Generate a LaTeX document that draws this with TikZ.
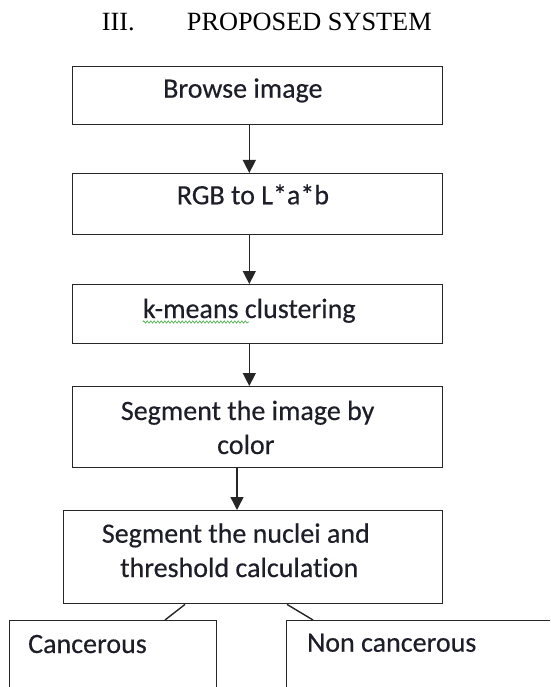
\documentclass[tikz,border=0pt]{standalone}
\usepackage{fontspec}
\setmainfont{Liberation Serif}
\newfontfamily\boxfont[Ligatures=NoCommon,FakeBold=0.4]{Carlito}
\usetikzlibrary{arrows.meta,decorations.pathmorphing}
\definecolor{lineclr}{HTML}{262626}
\definecolor{txtclr}{HTML}{1E1E2A}
\tikzset{
  x=1pt, y=-1pt,
  boxnode/.style={draw=lineclr, line width=1.4pt, rectangle, anchor=north west, inner sep=0pt},
  txt/.style={anchor=base west, inner sep=0pt, text=txtclr, font=\boxfont\fontsize{28}{33}\selectfont},
  ttl/.style={anchor=base west, inner sep=0pt, font=\fontsize{26.3}{30}\selectfont},
  arr/.style={draw=lineclr, line width=1.4pt, -{Triangle[width=13pt,length=13pt]}},
  conn/.style={draw=lineclr, line width=1.4pt},
}
\begin{document}
\begin{tikzpicture}
\useasboundingbox (0,0) rectangle (550,687);
\clip (0,0) rectangle (550,687);
% title
\node[ttl] (t1) at (101.7,31) {III.};
\node[ttl] (t2) at (186.7,31) {PROPOSED SYSTEM};
% boxes
\node[boxnode, minimum width=370pt, minimum height=58pt] (b1) at (72,66) {};
\node[boxnode, minimum width=370pt, minimum height=61pt] (b2) at (72,173) {};
\node[boxnode, minimum width=370pt, minimum height=59pt] (b3) at (72,284) {};
\node[boxnode, minimum width=370pt, minimum height=81pt] (b4) at (72,386) {};
\node[boxnode, minimum width=379pt, minimum height=93pt] (b5) at (63,510) {};
\node[boxnode, minimum width=207pt, minimum height=100pt] (b6) at (9,620) {};
\node[boxnode, minimum width=290pt, minimum height=100pt] (b7) at (286,620) {};
% texts
\node[txt] (l1) at (163,97.7) {Browse image};
\node[txt] (l2) at (176.7,204.3) {RGB to L*a*b};
\node[txt] (l3) at (142.7,318) {k-means clustering};
\node[txt] (l4a) at (120.7,420) {Segment the image by};
\node[txt] (l4b) at (217,454) {color};
\node[txt] (l5a) at (101.7,542.7) {Segment the nuclei and};
\node[txt] (l5b) at (120,577) {threshold calculation};
\node[txt] (l6) at (28,653) {Cancerous};
\node[txt] (l7) at (307,651.7) {Non cancerous};
% spell-check squiggle
\coordinate (sq1) at (142.7,322);
\coordinate (sq2) at (249,322);
\draw[draw={rgb,255:red,60;green,170;blue,60}, line width=0.6pt, decorate, decoration={snake, amplitude=1.2pt, segment length=3.5pt}] (sq1) -- (sq2);
% arrows
\coordinate (ax) at (249.3,0);
\coordinate (ay) at (237,0);
\draw[arr] (b1.south -| ax) -- (b2.north -| ax);
\draw[arr] (b2.south -| ax) -- (b3.north -| ax);
\draw[arr] (b3.south -| ax) -- (b4.north -| ax);
\draw[arr] (b4.south -| ay) -- (b5.north -| ay);
% branch lines
\coordinate (p1) at (185,0);
\coordinate (q1) at (165,0);
\coordinate (p2) at (287,0);
\coordinate (q2) at (313,0);
\draw[conn] (b5.south -| p1) -- (b6.north -| q1);
\draw[conn] (b5.south -| p2) -- (b7.north -| q2);
\end{tikzpicture}
\end{document}
